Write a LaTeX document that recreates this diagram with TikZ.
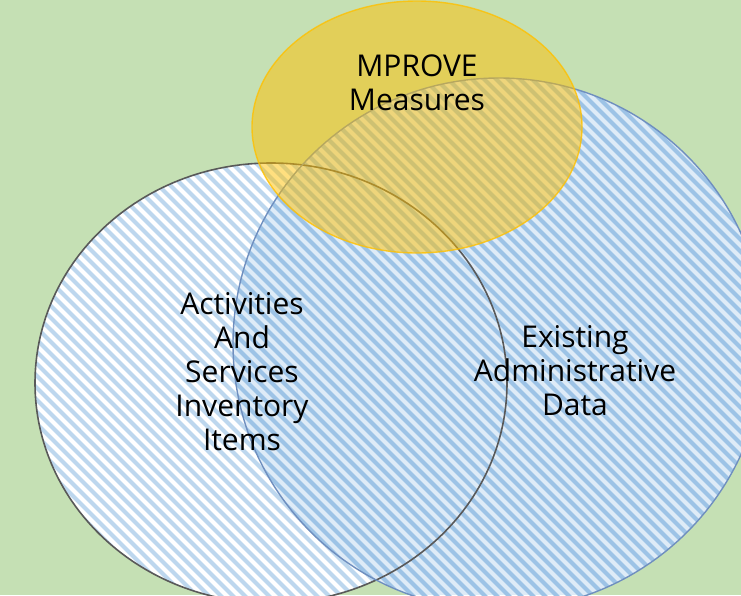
\documentclass[tikz,border=0pt]{standalone}
\usepackage{fontspec}
\setmainfont{Open Sans}
\definecolor{tausta}{HTML}{C5E0B4}
\definecolor{vaalea}{HTML}{BDD7EE}
\definecolor{pohja}{HTML}{DEEBF7}
\definecolor{raita}{HTML}{9DC3E6}
\definecolor{reuna}{HTML}{6F8FBF}
\definecolor{kulta}{HTML}{FFC000}
\tikzset{
  teksti/.style={font=\fontsize{30}{34}\selectfont, align=center, anchor=base, inner sep=0pt}
}
\begin{document}
\begin{tikzpicture}[x=1pt,y=-1pt]
\newcommand\raidat[1]{
\foreach \i in {0,...,115}
  \draw[#1, line width=4pt] ({-620+12*\i},-5) -- ({-15+12*\i},600);
}
\fill[tausta] (0,0) rectangle (741,595);
\useasboundingbox (0,0) rectangle (741,595);
\begin{scope}
\clip (271,383) ellipse [x radius=236pt, y radius=220pt];
\fill[white] (0,0) rectangle (741,595);
\raidat{vaalea}
\end{scope}
\begin{scope}
\clip (499,344) circle [radius=266pt];
\fill[pohja] (0,0) rectangle (741,595);
\raidat{raita}
\end{scope}
\draw[black!65, line width=1.6pt] (271,383) ellipse [x radius=236pt, y radius=220pt];
\draw[reuna, line width=1.4pt] (499,344) circle [radius=266pt];
\path[fill=kulta, fill opacity=0.5, draw=kulta, draw opacity=0.8, line width=1.4pt]
  (417,127) ellipse [x radius=165pt, y radius=126pt];
\node[teksti] (mprove) at (417,110) {MPROVE\\Measures};
\node[teksti] (toiminnot) at (242,450) {Activities\\And\\Services\\Inventory\\Items};
\node[teksti] (aineisto) at (575,415) {Existing\\Administrative\\Data};
\end{tikzpicture}
\end{document}
